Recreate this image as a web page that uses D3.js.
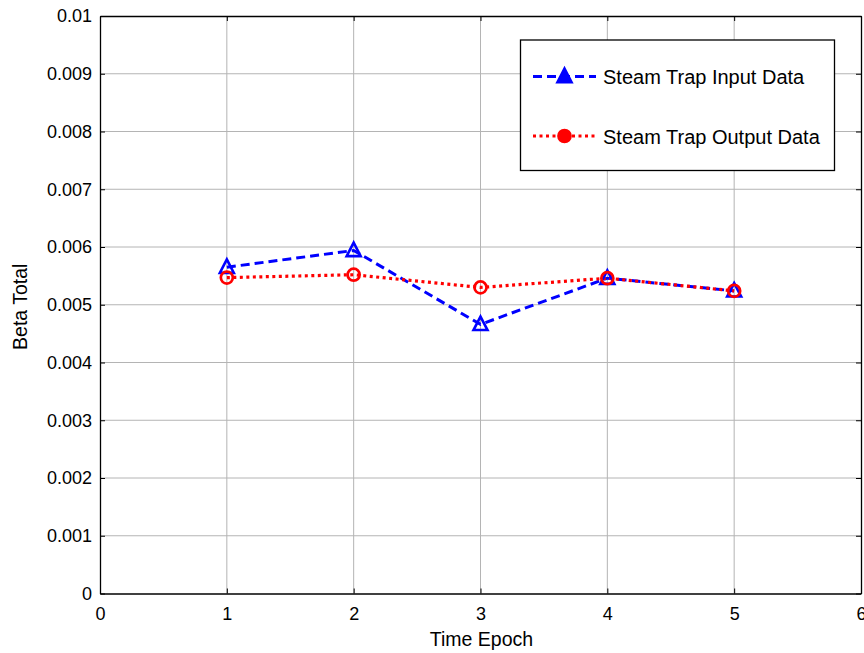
<!DOCTYPE html>
<html><head><meta charset="utf-8">
<script src="https://cdn.jsdelivr.net/npm/d3@7"></script>
<style>body{margin:0;background:#fff}svg{display:block}text{font-family:"Liberation Sans",Arial,sans-serif;fill:#000}</style>
</head><body><svg id="c" width="864" height="653"></svg>
<script>
const epochs = [1, 2, 3, 4, 5];
const inputData = [0.00565, 0.00594, 0.00466, 0.00546, 0.00524];
const outputData = [0.00547, 0.00552, 0.00530, 0.00546, 0.00524];
const xTicks = [0, 1, 2, 3, 4, 5, 6];
const yTicks = [0, 0.001, 0.002, 0.003, 0.004, 0.005, 0.006, 0.007, 0.008, 0.009, 0.01];
const seriesNames = ["Steam Trap Input Data", "Steam Trap Output Data"];

const svg = d3.select("#c");
const L = 100, R = 861, T = 16, B = 593.5;
const x = d3.scaleLinear().domain([0, 6]).range([L, R]);
const y = d3.scaleLinear().domain([0, 0.01]).range([B, T]);

// grid
svg.append("g").selectAll("line").data(xTicks.slice(1, -1)).join("line")
  .attr("x1", d => x(d)).attr("x2", d => x(d)).attr("y1", T).attr("y2", B)
  .attr("stroke", "#b4b4b4").attr("stroke-width", 1);
svg.append("g").selectAll("line").data(yTicks.slice(1, -1)).join("line")
  .attr("x1", L).attr("x2", R).attr("y1", d => y(d)).attr("y2", d => y(d))
  .attr("stroke", "#b4b4b4").attr("stroke-width", 1);

// axes with inward ticks
const fmt = d => d === 0 ? "0" : String(+d.toFixed(3));
const xAxis = svg.append("g").attr("transform", `translate(0,${B})`)
  .call(d3.axisBottom(x).tickValues(xTicks).tickSizeInner(-5).tickSizeOuter(0).tickPadding(14).tickFormat(d3.format("d")));
const xTop = svg.append("g").attr("transform", `translate(0,${T})`)
  .call(d3.axisTop(x).tickValues(xTicks).tickSizeInner(-5).tickSizeOuter(0).tickFormat(""));
const yAxis = svg.append("g").attr("transform", `translate(${L},0)`)
  .call(d3.axisLeft(y).tickValues(yTicks).tickSizeInner(-5).tickSizeOuter(0).tickPadding(8).tickFormat(fmt));
const yRight = svg.append("g").attr("transform", `translate(${R},0)`)
  .call(d3.axisRight(y).tickValues(yTicks).tickSizeInner(-5).tickSizeOuter(0).tickFormat(""));
[xAxis, xTop, yAxis, yRight].forEach(g => {
  g.select(".domain").attr("stroke", "#000").attr("stroke-width", 1.3);
  g.selectAll(".tick line").attr("stroke", "#000");
  g.selectAll("text").attr("font-size", 18).attr("font-family", '"Liberation Sans",Arial,sans-serif').attr("fill", "#000");
});

// labels
svg.append("text").attr("x", x(3) + 1).attr("y", 646).attr("text-anchor", "middle")
  .attr("font-size", 19.5).text("Time Epoch");
svg.append("text").attr("transform", `translate(27,${(T + B) / 2 + 2}) rotate(-90)`)
  .attr("text-anchor", "middle").attr("font-size", 19.5).text("Beta Total");

// lines
const line = d3.line().x((d, i) => x(epochs[i])).y(d => y(d));
svg.append("path").datum(inputData).attr("d", line).attr("fill", "none")
  .attr("stroke", "#0000ff").attr("stroke-width", 3).attr("stroke-dasharray", "9,5");
svg.append("path").datum(outputData).attr("d", line).attr("fill", "none")
  .attr("stroke", "#ff0000").attr("stroke-width", 3.2).attr("stroke-dasharray", "3,3.5");

function triPath(cx, cy, s) {
  const h = s * 0.9;
  return `M${cx},${cy - h * 0.62}L${cx + s / 2},${cy + h * 0.45}L${cx - s / 2},${cy + h * 0.45}Z`;
}
svg.append("g").selectAll("path").data(inputData).join("path")
  .attr("d", (d, i) => triPath(x(epochs[i]), y(d), 14))
  .attr("fill", "none").attr("stroke", "#0000ff").attr("stroke-width", 2.6);
svg.append("g").selectAll("circle").data(outputData).join("circle")
  .attr("cx", (d, i) => x(epochs[i])).attr("cy", d => y(d)).attr("r", 6)
  .attr("fill", "none").attr("stroke", "#ff0000").attr("stroke-width", 2.7);

// legend
const lg = svg.append("g");
lg.append("rect").attr("x", 520.5).attr("y", 40).attr("width", 314).attr("height", 130.5)
  .attr("fill", "#fff").attr("stroke", "#000").attr("stroke-width", 1.3);
const rows = [76.5, 136];
lg.append("line").attr("x1", 533).attr("x2", 596).attr("y1", rows[0]).attr("y2", rows[0])
  .attr("stroke", "#0000ff").attr("stroke-width", 3).attr("stroke-dasharray", "9,5");
lg.append("path").attr("d", triPath(564.5, rows[0], 14)).attr("fill", "#0000ff")
  .attr("stroke", "#0000ff").attr("stroke-width", 2.6);
lg.append("line").attr("x1", 533).attr("x2", 596).attr("y1", rows[1]).attr("y2", rows[1])
  .attr("stroke", "#ff0000").attr("stroke-width", 3.2).attr("stroke-dasharray", "3,3.5");
lg.append("circle").attr("cx", 564.5).attr("cy", rows[1]).attr("r", 6)
  .attr("fill", "#ff0000").attr("stroke", "#ff0000").attr("stroke-width", 2.7);
lg.selectAll("text.l").data(seriesNames).join("text").attr("class", "l")
  .attr("x", 603).attr("y", (d, i) => rows[i] + 7.5).attr("font-size", 20).text(d => d);
</script></body></html>
